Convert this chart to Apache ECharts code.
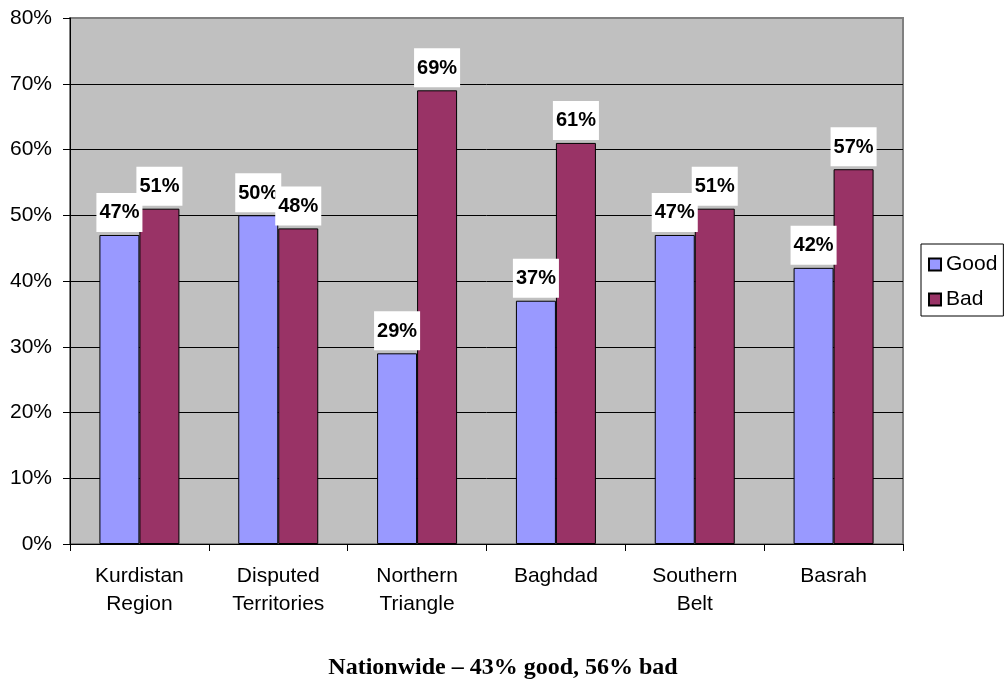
<!DOCTYPE html>
<html>
<head>
<meta charset="utf-8">
<script src="https://cdn.jsdelivr.net/npm/echarts@6/dist/echarts.min.js"></script>
<style>
  html, body { margin: 0; padding: 0; background: #fff; }
  #chart { width: 1006px; height: 681px; }
</style>
</head>
<body>
<div id="chart"></div>
<script>
var regions = ['Kurdistan\nRegion', 'Disputed\nTerritories', 'Northern\nTriangle', 'Baghdad', 'Southern\nBelt', 'Basrah'];
var goodValues = [47, 50, 29, 37, 47, 42];
var badValues = [51, 48, 69, 61, 51, 57];
var chartTitle = 'Nationwide \u2013 43% good, 56% bad';

var myChart = echarts.init(document.getElementById('chart'));

// label box: white background sitting on the bar top
var barLabel = {
  show: true,
  position: 'top',
  distance: 3,
  formatter: '{c}%',
  fontFamily: 'Arial, "Liberation Sans", sans-serif',
  fontSize: 20,
  fontWeight: 'bold',
  color: '#000',
  backgroundColor: '#fff',
  lineHeight: 20,
  padding: [10, 3, 9, 3]
};

var gridColors = ['#000', '#000', '#000', '#000', '#000', '#000', '#000', '#000', '#808080'];

var option = {
  animation: false,
  textStyle: { fontFamily: 'Arial, "Liberation Sans", sans-serif' },
  title: {
    text: chartTitle,
    left: 'center',
    top: 651,
    textStyle: {
      fontFamily: '"Liberation Serif", "Times New Roman", serif',
      fontSize: 24,
      fontWeight: 'bold',
      color: '#000'
    }
  },
  legend: {
    orient: 'vertical',
    left: 921,
    top: 244,
    padding: [10, 6, 6, 7],
    itemGap: 14,
    itemWidth: 12,
    itemHeight: 12,
    backgroundColor: '#fff',
    borderColor: '#000',
    borderWidth: 1,
    borderRadius: 0,
    icon: 'rect',
    textStyle: { fontSize: 21, color: '#000' },
    data: ['Good', 'Bad']
  },
  grid: {
    left: 70,
    right: 103,
    top: 18,
    bottom: 137,
    show: true,
    backgroundColor: '#C0C0C0',
    borderColor: '#808080',
    borderWidth: 2
  },
  xAxis: {
    type: 'category',
    data: regions,
    axisLine: { lineStyle: { color: '#000', width: 1 } },
    axisTick: { show: true, length: 7, lineStyle: { color: '#000' } },
    axisLabel: { color: '#000', fontSize: 21, lineHeight: 28, margin: 18, interval: 0 }
  },
  yAxis: {
    type: 'value',
    min: 0,
    max: 80,
    interval: 10,
    axisLine: { show: true, lineStyle: { color: '#000', width: 1 } },
    axisTick: { show: true, length: 7, lineStyle: { color: '#000' } },
    axisLabel: { color: '#000', fontSize: 21, margin: 18, formatter: '{value}%' },
    splitLine: { show: true, lineStyle: { color: gridColors, width: 1 } }
  },
  series: [
    {
      name: 'Good',
      type: 'bar',
      data: goodValues,
      barWidth: 40,
      barGap: '0%',
      itemStyle: { color: '#9999FF', borderColor: '#000', borderWidth: 1 },
      label: barLabel
    },
    {
      name: 'Bad',
      type: 'bar',
      data: badValues,
      barWidth: 40,
      itemStyle: { color: '#993366', borderColor: '#000', borderWidth: 1 },
      label: barLabel
    }
  ]
};
option && myChart.setOption(option);
</script>
</body>
</html>
